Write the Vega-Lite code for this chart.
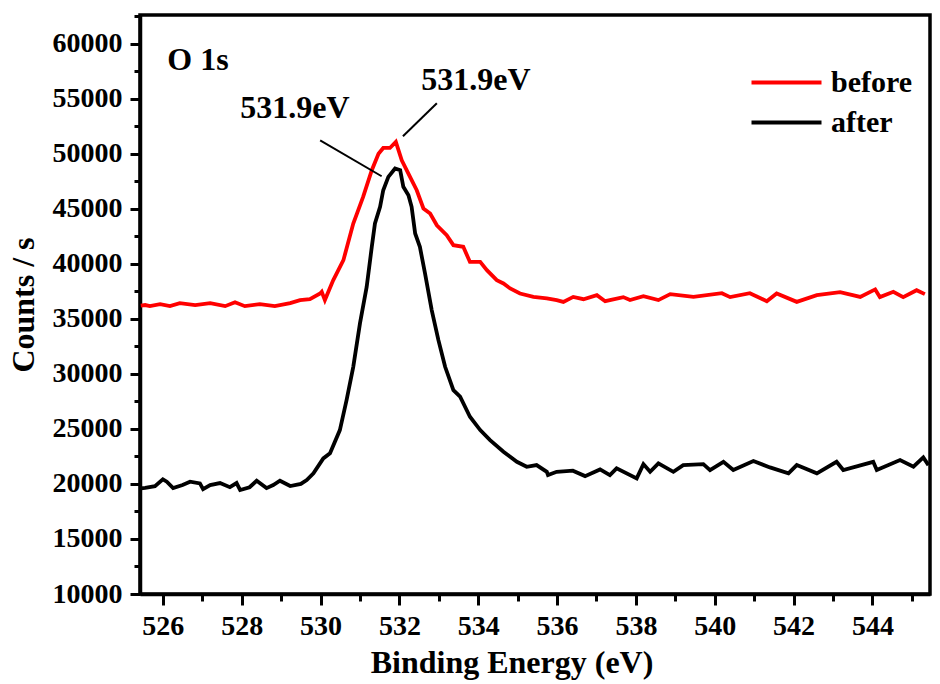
{
  "$schema": "https://vega.github.io/schema/vega-lite/v6.json",
  "width": 790,
  "height": 579,
  "autosize": "none",
  "padding": {"left": 140, "top": 15, "right": 10, "bottom": 90},
  "background": "white",
  "config": {
    "font": "Liberation Serif",
    "view": {"stroke": "black", "strokeWidth": 3.5},
    "axis": {
      "labelFont": "Liberation Serif", "labelFontWeight": "bold", "labelFontSize": 28, "labelColor": "black",
      "titleFont": "Liberation Serif", "titleFontWeight": "bold", "titleFontSize": 32, "titleColor": "black",
      "domainColor": "black", "domainWidth": 3.5, "tickColor": "black", "tickWidth": 3, "grid": false
    }
  },
  "datasets": {
    "spectra": [
      {"sample": "before", "energy": 525.44, "counts": 36200},
      {"sample": "before", "energy": 525.55, "counts": 36250},
      {"sample": "before", "energy": 525.67, "counts": 36150},
      {"sample": "before", "energy": 525.93, "counts": 36330},
      {"sample": "before", "energy": 526.18, "counts": 36150},
      {"sample": "before", "energy": 526.43, "counts": 36420},
      {"sample": "before", "energy": 526.82, "counts": 36240},
      {"sample": "before", "energy": 527.2, "counts": 36420},
      {"sample": "before", "energy": 527.58, "counts": 36150},
      {"sample": "before", "energy": 527.83, "counts": 36510},
      {"sample": "before", "energy": 528.08, "counts": 36150},
      {"sample": "before", "energy": 528.46, "counts": 36330},
      {"sample": "before", "energy": 528.84, "counts": 36150},
      {"sample": "before", "energy": 529.23, "counts": 36420},
      {"sample": "before", "energy": 529.48, "counts": 36700},
      {"sample": "before", "energy": 529.73, "counts": 36780},
      {"sample": "before", "energy": 529.99, "counts": 37300},
      {"sample": "before", "energy": 530.03, "counts": 37450},
      {"sample": "before", "energy": 530.11, "counts": 36700},
      {"sample": "before", "energy": 530.32, "counts": 38500},
      {"sample": "before", "energy": 530.58, "counts": 40330},
      {"sample": "before", "energy": 530.83, "counts": 43660},
      {"sample": "before", "energy": 531.08, "counts": 46070},
      {"sample": "before", "energy": 531.3, "counts": 48500},
      {"sample": "before", "energy": 531.47, "counts": 50000},
      {"sample": "before", "energy": 531.59, "counts": 50520},
      {"sample": "before", "energy": 531.76, "counts": 50520},
      {"sample": "before", "energy": 531.91, "counts": 51070},
      {"sample": "before", "energy": 532.06, "counts": 49400},
      {"sample": "before", "energy": 532.27, "counts": 47890},
      {"sample": "before", "energy": 532.44, "counts": 46680},
      {"sample": "before", "energy": 532.61, "counts": 45020},
      {"sample": "before", "energy": 532.78, "counts": 44570},
      {"sample": "before", "energy": 532.95, "counts": 43500},
      {"sample": "before", "energy": 533.2, "counts": 42600},
      {"sample": "before", "energy": 533.37, "counts": 41690},
      {"sample": "before", "energy": 533.62, "counts": 41540},
      {"sample": "before", "energy": 533.79, "counts": 40170},
      {"sample": "before", "energy": 534.05, "counts": 40170},
      {"sample": "before", "energy": 534.22, "counts": 39420},
      {"sample": "before", "energy": 534.47, "counts": 38510},
      {"sample": "before", "energy": 534.64, "counts": 38210},
      {"sample": "before", "energy": 534.81, "counts": 37760},
      {"sample": "before", "energy": 535.06, "counts": 37300},
      {"sample": "before", "energy": 535.4, "counts": 36990},
      {"sample": "before", "energy": 535.74, "counts": 36850},
      {"sample": "before", "energy": 535.99, "counts": 36700},
      {"sample": "before", "energy": 536.16, "counts": 36540},
      {"sample": "before", "energy": 536.41, "counts": 36990},
      {"sample": "before", "energy": 536.67, "counts": 36780},
      {"sample": "before", "energy": 537.01, "counts": 37150},
      {"sample": "before", "energy": 537.22, "counts": 36600},
      {"sample": "before", "energy": 537.68, "counts": 36970},
      {"sample": "before", "energy": 537.85, "counts": 36700},
      {"sample": "before", "energy": 538.19, "counts": 37060},
      {"sample": "before", "energy": 538.57, "counts": 36700},
      {"sample": "before", "energy": 538.87, "counts": 37240},
      {"sample": "before", "energy": 539.46, "counts": 36990},
      {"sample": "before", "energy": 540.18, "counts": 37330},
      {"sample": "before", "energy": 540.39, "counts": 36970},
      {"sample": "before", "energy": 540.89, "counts": 37330},
      {"sample": "before", "energy": 541.32, "counts": 36600},
      {"sample": "before", "energy": 541.57, "counts": 37300},
      {"sample": "before", "energy": 542.08, "counts": 36540},
      {"sample": "before", "energy": 542.59, "counts": 37150},
      {"sample": "before", "energy": 543.18, "counts": 37420},
      {"sample": "before", "energy": 543.69, "counts": 36990},
      {"sample": "before", "energy": 544.07, "counts": 37670},
      {"sample": "before", "energy": 544.19, "counts": 36970},
      {"sample": "before", "energy": 544.53, "counts": 37450},
      {"sample": "before", "energy": 544.78, "counts": 36970},
      {"sample": "before", "energy": 545.12, "counts": 37600},
      {"sample": "before", "energy": 545.33, "counts": 37240},
      {"sample": "after", "energy": 525.44, "counts": 19600},
      {"sample": "after", "energy": 525.55, "counts": 19650},
      {"sample": "after", "energy": 525.8, "counts": 19800},
      {"sample": "after", "energy": 526.0, "counts": 20410},
      {"sample": "after", "energy": 526.1, "counts": 20200},
      {"sample": "after", "energy": 526.26, "counts": 19620},
      {"sample": "after", "energy": 526.5, "counts": 19900},
      {"sample": "after", "energy": 526.69, "counts": 20200},
      {"sample": "after", "energy": 526.94, "counts": 20050},
      {"sample": "after", "energy": 527.02, "counts": 19530},
      {"sample": "after", "energy": 527.2, "counts": 19900},
      {"sample": "after", "energy": 527.45, "counts": 20080},
      {"sample": "after", "energy": 527.7, "counts": 19700},
      {"sample": "after", "energy": 527.87, "counts": 20080},
      {"sample": "after", "energy": 527.96, "counts": 19440},
      {"sample": "after", "energy": 528.2, "counts": 19700},
      {"sample": "after", "energy": 528.38, "counts": 20290},
      {"sample": "after", "energy": 528.63, "counts": 19620},
      {"sample": "after", "energy": 528.8, "counts": 19900},
      {"sample": "after", "energy": 528.97, "counts": 20290},
      {"sample": "after", "energy": 529.23, "counts": 19810},
      {"sample": "after", "energy": 529.5, "counts": 20000},
      {"sample": "after", "energy": 529.65, "counts": 20350},
      {"sample": "after", "energy": 529.82, "counts": 20960},
      {"sample": "after", "energy": 530.07, "counts": 22320},
      {"sample": "after", "energy": 530.24, "counts": 22780},
      {"sample": "after", "energy": 530.49, "counts": 24890},
      {"sample": "after", "energy": 530.66, "counts": 27620},
      {"sample": "after", "energy": 530.83, "counts": 30640},
      {"sample": "after", "energy": 531.0, "counts": 34580},
      {"sample": "after", "energy": 531.17, "counts": 37900},
      {"sample": "after", "energy": 531.3, "counts": 41540},
      {"sample": "after", "energy": 531.38, "counts": 43660},
      {"sample": "after", "energy": 531.51, "counts": 45170},
      {"sample": "after", "energy": 531.59, "counts": 46680},
      {"sample": "after", "energy": 531.72, "counts": 47890},
      {"sample": "after", "energy": 531.89, "counts": 48650},
      {"sample": "after", "energy": 532.02, "counts": 48500},
      {"sample": "after", "energy": 532.1, "counts": 46990},
      {"sample": "after", "energy": 532.23, "counts": 46230},
      {"sample": "after", "energy": 532.31, "counts": 45170},
      {"sample": "after", "energy": 532.4, "counts": 42750},
      {"sample": "after", "energy": 532.52, "counts": 41540},
      {"sample": "after", "energy": 532.65, "counts": 39120},
      {"sample": "after", "energy": 532.82, "counts": 35790},
      {"sample": "after", "energy": 532.99, "counts": 33060},
      {"sample": "after", "energy": 533.16, "counts": 30640},
      {"sample": "after", "energy": 533.37, "counts": 28520},
      {"sample": "after", "energy": 533.54, "counts": 27920},
      {"sample": "after", "energy": 533.79, "counts": 26100},
      {"sample": "after", "energy": 534.05, "counts": 24890},
      {"sample": "after", "energy": 534.3, "counts": 23980},
      {"sample": "after", "energy": 534.64, "counts": 22920},
      {"sample": "after", "energy": 534.98, "counts": 22010},
      {"sample": "after", "energy": 535.23, "counts": 21560},
      {"sample": "after", "energy": 535.48, "counts": 21710},
      {"sample": "after", "energy": 535.74, "counts": 21100},
      {"sample": "after", "energy": 535.77, "counts": 20800},
      {"sample": "after", "energy": 535.99, "counts": 21100},
      {"sample": "after", "energy": 536.4, "counts": 21200},
      {"sample": "after", "energy": 536.71, "counts": 20710},
      {"sample": "after", "energy": 537.09, "counts": 21320},
      {"sample": "after", "energy": 537.34, "counts": 20800},
      {"sample": "after", "energy": 537.51, "counts": 21410},
      {"sample": "after", "energy": 538.02, "counts": 20500},
      {"sample": "after", "energy": 538.19, "counts": 21800},
      {"sample": "after", "energy": 538.36, "counts": 21100},
      {"sample": "after", "energy": 538.57, "counts": 21870},
      {"sample": "after", "energy": 538.95, "counts": 21100},
      {"sample": "after", "energy": 539.2, "counts": 21710},
      {"sample": "after", "energy": 539.71, "counts": 21800},
      {"sample": "after", "energy": 539.88, "counts": 21260},
      {"sample": "after", "energy": 540.22, "counts": 22010},
      {"sample": "after", "energy": 540.47, "counts": 21260},
      {"sample": "after", "energy": 540.98, "counts": 22080},
      {"sample": "after", "energy": 541.4, "counts": 21500},
      {"sample": "after", "energy": 541.87, "counts": 20960},
      {"sample": "after", "energy": 542.08, "counts": 21710},
      {"sample": "after", "energy": 542.59, "counts": 20960},
      {"sample": "after", "energy": 543.09, "counts": 22010},
      {"sample": "after", "energy": 543.26, "counts": 21260},
      {"sample": "after", "energy": 544.02, "counts": 22010},
      {"sample": "after", "energy": 544.11, "counts": 21260},
      {"sample": "after", "energy": 544.7, "counts": 22170},
      {"sample": "after", "energy": 545.04, "counts": 21560},
      {"sample": "after", "energy": 545.29, "counts": 22410},
      {"sample": "after", "energy": 545.42, "counts": 21710}
    ],
    "leaders": [
      {"x1": 529.99, "y1": 51220, "x2": 531.55, "y2": 47950},
      {"x1": 532.09, "y1": 51590, "x2": 532.95, "y2": 54580}
    ],
    "notes": [
      {"label": "O 1s", "x": 526.89, "y": 58490},
      {"label": "531.9eV", "x": 529.35, "y": 54130},
      {"label": "531.9eV", "x": 533.94, "y": 56670}
    ]
  },
  "layer": [
    {
      "data": {"name": "spectra"},
      "mark": {"type": "line", "strokeWidth": 3.8, "clip": true},
      "encoding": {
        "x": {
          "field": "energy", "type": "quantitative",
          "scale": {"domain": [525.42, 545.46], "nice": false, "zero": false},
          "axis": {"orient": "bottom", "values": [526, 528, 530, 532, 534, 536, 538, 540, 542, 544], "tickSize": 11, "labelPadding": 7, "labelFlush": false, "title": "Binding Energy (eV)", "titlePadding": 7, "titleX": 371.5}
        },
        "y": {
          "field": "counts", "type": "quantitative",
          "scale": {"domain": [10000, 62600], "nice": false, "zero": false},
          "axis": {"orient": "left", "values": [10000, 15000, 20000, 25000, 30000, 35000, 40000, 45000, 50000, 55000, 60000], "format": "d", "tickSize": 10, "labelPadding": 8, "labelFlush": false, "title": "Counts / s", "titlePadding": 12}
        },
        "color": {
          "field": "sample", "type": "nominal",
          "scale": {"domain": ["before", "after"], "range": ["#ff0000", "#000000"]},
          "legend": {
            "title": null, "orient": "none", "legendX": 627, "legendY": 48,
            "symbolType": "M-2,0L2,0", "symbolSize": 1225, "symbolStrokeWidth": 4,
            "labelFont": "Liberation Serif", "labelFontWeight": "bold", "labelFontSize": 30, "labelColor": "black",
            "labelOffset": 25, "rowPadding": 5, "padding": 0
          }
        }
      }
    },
    {
      "data": {"name": "leaders"},
      "mark": {"type": "rule", "strokeWidth": 2, "color": "black"},
      "encoding": {
        "x": {"field": "x1", "type": "quantitative", "axis": {"orient": "bottom", "values": [527, 529, 531, 533, 535, 537, 539, 541, 543, 545], "tickSize": 7, "labels": false, "domain": false, "title": null}},
        "y": {"field": "y1", "type": "quantitative", "axis": {"orient": "left", "values": [12500, 17500, 22500, 27500, 32500, 37500, 42500, 47500, 52500, 57500, 62500], "tickSize": 6, "labels": false, "domain": false, "title": null}},
        "x2": {"field": "x2"},
        "y2": {"field": "y2"}
      }
    },
    {
      "data": {"name": "notes"},
      "mark": {"type": "text", "font": "Liberation Serif", "fontWeight": "bold", "fontSize": 32, "color": "black", "baseline": "middle", "align": "center"},
      "encoding": {
        "x": {"field": "x", "type": "quantitative", "axis": null},
        "y": {"field": "y", "type": "quantitative", "axis": null},
        "text": {"field": "label"}
      }
    }
  ],
  "resolve": {"axis": {"x": "independent", "y": "independent"}}
}
